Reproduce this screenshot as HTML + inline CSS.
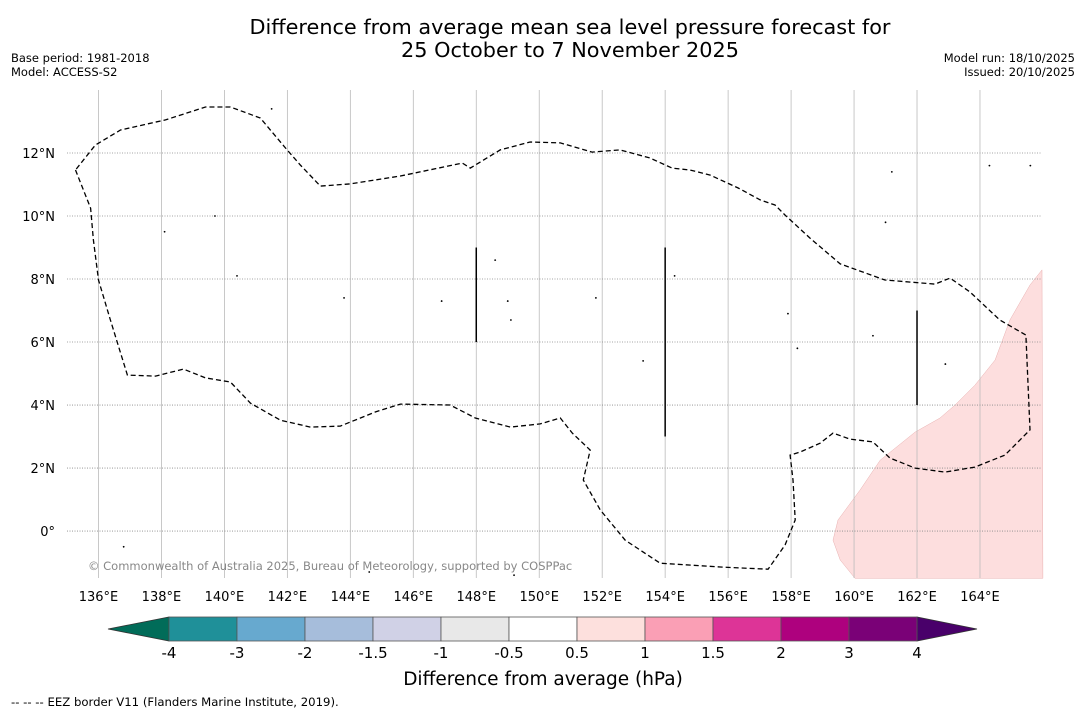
<!DOCTYPE html>
<html><head><meta charset="utf-8">
<style>
body{margin:0;background:#fff;width:1085px;height:713px;overflow:hidden;font-family:"DejaVu Sans","Liberation Sans",sans-serif;}
svg text{font-family:"DejaVu Sans","Liberation Sans",sans-serif;}
</style></head>
<body>
<svg id="c" width="1085" height="713" xmlns="http://www.w3.org/2000/svg">
<text x="570" y="34" font-size="20.8" text-anchor="middle">Difference from average mean sea level pressure forecast for</text>
<text x="570" y="57" font-size="20.8" text-anchor="middle">25 October to 7 November 2025</text>
<text x="11" y="62" font-size="11.5">Base period: 1981-2018</text>
<text x="11" y="76" font-size="11.5">Model: ACCESS-S2</text>
<text x="1075" y="62" font-size="11.5" text-anchor="end">Model run: 18/10/2025</text>
<text x="1075" y="76" font-size="11.5" text-anchor="end">Issued: 20/10/2025</text>
<g id="map"></g>
<g id="cbar"></g>
<text x="543" y="685" font-size="18.5" text-anchor="middle">Difference from average (hPa)</text>
<text x="11" y="706" font-size="11.7">--  --  -- EEZ border V11 (Flanders Marine Institute, 2019).</text>
</svg>
<script>
const lonTicks=[136,138,140,142,144,146,148,150,152,154,156,158,160,162,164];
const latTicks=[0,2,4,6,8,10,12];
const eezLon=[135.27,135.75,135.84,136.0,136.38,136.92,137.81,138.70,139.40,140.19,140.83,141.78,142.73,143.68,144.79,145.59,147.17,147.97,149.08,150.03,150.67,151.05,151.62,151.40,151.94,152.73,153.84,155.75,157.27,157.81,158.13,158.06,157.97,158.29,158.92,159.33,159.87,160.60,161.14,161.94,162.89,163.84,164.79,165.59,165.46,164.63,163.68,163.05,162.57,160.98,159.56,158.60,157.81,157.49,157.02,156.32,155.43,154.79,154.22,153.52,152.57,151.68,150.67,149.71,148.76,147.81,147.56,145.59,144.0,143.05,142.41,141.94,141.14,140.19,139.40,138.13,137.81,136.70,135.90,135.27];
const eezLat=[11.46,10.25,9.24,7.97,6.70,4.95,4.92,5.14,4.86,4.73,4.06,3.52,3.30,3.33,3.78,4.03,4.0,3.59,3.30,3.40,3.59,3.11,2.57,1.62,0.67,-0.29,-1.02,-1.14,-1.21,-0.44,0.35,1.62,2.41,2.51,2.79,3.11,2.92,2.83,2.32,2.0,1.87,2.03,2.41,3.21,6.22,6.70,7.59,8.03,7.84,7.97,8.48,9.30,10.03,10.35,10.51,10.89,11.30,11.46,11.52,11.84,12.10,12.03,12.32,12.35,12.10,11.52,11.68,11.27,11.02,10.95,11.62,12.16,13.11,13.46,13.46,13.05,12.98,12.73,12.25,11.46];
const anomLon=[165.97,165.59,164.95,164.48,163.84,163.21,162.73,161.94,160.83,160.19,159.49,159.33,159.56,160.03,166.0];
const anomLat=[8.29,7.81,6.70,5.43,4.63,4.0,3.59,3.14,2.25,1.30,0.35,-0.29,-0.92,-1.5,-1.5];
const segLon=[148,154,162];
const segLat0=[6,3,4];
const segLat1=[9,9,7];
const islandLon=[141.5,138.1,139.7,140.4,143.8,146.9,149.0,149.1,148.6,151.8,153.3,154.3,157.9,158.2,160.6,161.0,162.9,164.3,165.6,161.2,136.8,149.2,144.6];
const islandLat=[13.4,9.5,10.0,8.1,7.4,7.3,7.3,6.7,8.6,7.4,5.4,8.1,6.9,5.8,6.2,9.8,5.3,11.6,11.6,11.4,-0.5,-1.4,-1.3];
const cbBounds=["-4","-3","-2","-1.5","-1","-0.5","0.5","1","1.5","2","3","4"];
const cbColors=["#1f9099","#67a9cf","#a6bddb","#d0d1e6","#e8e8e8","#ffffff","#fde0dd","#fa9fb5","#dd3497","#ae017e","#7a0177"];
const cbUnder="#016c59", cbOver="#49006a";

const NS="http://www.w3.org/2000/svg";
const X0=67,X1=1042,Y0=90,Y1=578,LON0=135.0,LON1=165.97,LAT0=-1.49,LAT1=14.0;
const xs=l=>X0+(l-LON0)/(LON1-LON0)*(X1-X0);
const ys=l=>Y1-(l-LAT0)/(LAT1-LAT0)*(Y1-Y0);
function mk(t,a,p){const e=document.createElementNS(NS,t);for(const k in a)e.setAttribute(k,a[k]);p.appendChild(e);return e;}
const map=document.getElementById('map');
let pts=anomLon.map((l,i)=>xs(l).toFixed(1)+','+ys(anomLat[i]).toFixed(1)).join(' ');
let an=mk('polygon',{points:pts,fill:'#fddede',stroke:'#e8b0b0','stroke-width':0.5},map);


lonTicks.forEach(l=>{
 let g=mk('line',{x1:xs(l),x2:xs(l),y1:Y0,y2:Y1,stroke:'#bbb','stroke-width':0.8},map);
 
 
 let t=mk('text',{x:xs(l),y:601,'font-size':13,'text-anchor':'middle'},map);t.textContent=l+'°E';
 
 
});
latTicks.forEach(l=>{
 let g=mk('line',{x1:X0,x2:X1,y1:ys(l),y2:ys(l),stroke:'#888','stroke-width':0.8,'stroke-dasharray':'1,1.5'},map);
 
 
 let t=mk('text',{x:55,y:ys(l)+5,'font-size':13,'text-anchor':'end'},map);t.textContent=l===0?'0°':l+'°N';
 
 
});
islandLon.forEach((l,i)=>{
 let d=mk('circle',{cx:xs(l),cy:ys(islandLat[i]),r:0.9,fill:'#000'},map);
 
 
});
pts=eezLon.map((l,i)=>xs(l).toFixed(1)+','+ys(eezLat[i]).toFixed(1)).join(' ');
let ez=mk('polyline',{points:pts,fill:'none',stroke:'#000','stroke-width':1.3,'stroke-dasharray':'5,3'},map);


segLon.forEach((l,i)=>{
 let s=mk('line',{x1:xs(l),x2:xs(l),y1:ys(segLat0[i]),y2:ys(segLat1[i]),stroke:'#000','stroke-width':1.5},map);
 
 
});
let cp=mk('text',{x:88,y:570,'font-size':11.5,fill:'#888'},map);
cp.textContent='© Commonwealth of Australia 2025, Bureau of Meteorology, supported by COSPPac';


const cb=document.getElementById('cbar');
const CB0=169,CB1=917,CT=617,CBt=641,n=cbColors.length,w=(CB1-CB0)/n;
let u=mk('polygon',{points:`108,629 ${CB0},${CT} ${CB0},${CBt}`,fill:cbUnder,stroke:'#333','stroke-width':0.8},cb);


let o=mk('polygon',{points:`977,629 ${CB1},${CT} ${CB1},${CBt}`,fill:cbOver,stroke:'#333','stroke-width':0.8},cb);


cbColors.forEach((c,i)=>{
 let r=mk('rect',{x:CB0+i*w,y:CT,width:w,height:CBt-CT,fill:c,stroke:'#555','stroke-width':0.8},cb);
 
 
});
cbBounds.forEach((b,i)=>{
 let t=mk('text',{x:CB0+i*w,y:658,'font-size':15,'text-anchor':'middle'},cb);t.textContent=b;
 
 
});
</script>
</body></html>
